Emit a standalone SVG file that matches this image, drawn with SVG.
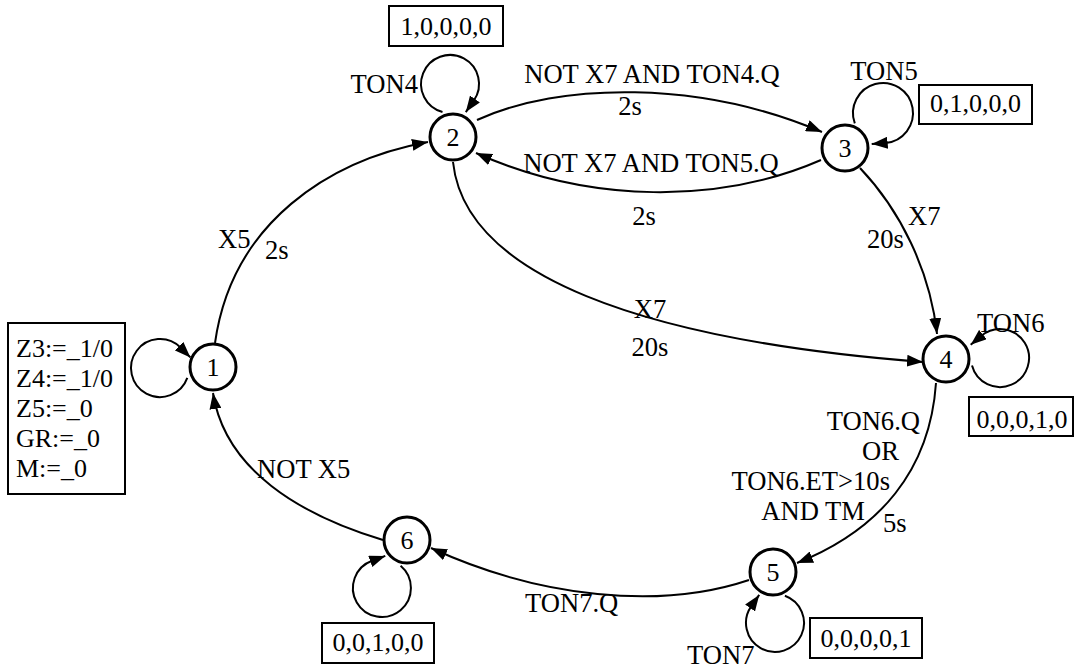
<svg xmlns="http://www.w3.org/2000/svg" width="1074" height="670" viewBox="0 0 1074 670" font-family="'Liberation Serif', 'DejaVu Serif', serif">
  <style>
    text { font-family: 'Liberation Serif', 'Times New Roman', Times, 'DejaVu Serif', serif; font-size: 26px; fill: #000; }
    .lbl { font-size: 26.6px; }
    .state { fill: #fff; stroke: #000; stroke-width: 3; }
    .num { text-anchor: middle; }
    .box { fill: #fff; stroke: #000; stroke-width: 2; }
    .edge { fill: none; stroke: #000; stroke-width: 2; marker-end: url(#arrow); }
    .mid { text-anchor: middle; }
    .end { text-anchor: end; }
  </style>
  <defs>
    <marker id="arrow" markerUnits="userSpaceOnUse" markerWidth="16" markerHeight="12" refX="16" refY="6" orient="auto">
      <path d="M0,0 L16,6 L0,12 z" fill="#000"/>
    </marker>
  </defs>
  <rect width="1074" height="670" fill="#fff"/>

  <!-- transitions and self-loops -->
  <g id="connectors">
    <path class="edge" d="M215,343 C232,222 330,160 428,142"/>
    <path class="edge" d="M477,120 C560,82 700,80 822,132"/>
    <path class="edge" d="M821,160 C720,204 590,204 476,153"/>
    <path class="edge" d="M860,168 C900,210 930,270 937,334"/>
    <path class="edge" d="M453,162 C465,275 640,340 923,362"/>
    <path class="edge" d="M936,383 C930,470 880,530 797,563"/>
    <path class="edge" d="M749,580 C660,610 540,598 431,548"/>
    <path class="edge" d="M383,540 C300,515 225,470 213,393"/>

    <path class="edge" d="M187.3,377.9 A29,29 0 1 1 180.5,347.5 L190.4,357.4"/>
    <path class="edge" d="M442.5,112 A29,29 0 1 1 473.8,100.6 L465.8,112.1"/>
    <path class="edge" d="M854.8,123.3 A30,30 0 1 1 885.6,142.9 L871.7,144.1"/>
    <path class="edge" d="M972,365.5 A29,29 0 1 0 981.4,335.8 L970.7,344.8"/>
    <path class="edge" d="M784.9,595.7 A29,29 0 1 1 751.2,606.4 L759.2,594.9"/>
    <path class="edge" d="M400.6,565.8 A29,29 0 1 1 372.1,560.7 L385.3,555.9"/>
  </g>

  <!-- transition labels -->
  <g id="labels" class="lbl">
    <text class="lbl" x="218" y="248">X5</text>
    <text class="lbl" x="265" y="259">2s</text>
    <text class="lbl mid" x="652" y="83">NOT X7 AND TON4.Q</text>
    <text class="lbl mid" x="630" y="115">2s</text>
    <text class="lbl mid" x="651" y="172">NOT X7 AND TON5.Q</text>
    <text class="lbl mid" x="644" y="225">2s</text>
    <text class="lbl" x="908" y="225">X7</text>
    <text class="lbl" x="867" y="248">20s</text>
    <text class="lbl mid" x="650" y="318">X7</text>
    <text class="lbl mid" x="650" y="356">20s</text>
    <text class="lbl end" x="920" y="430">TON6.Q</text>
    <text class="lbl" x="862" y="460">OR</text>
    <text class="lbl end" x="890" y="490">TON6.ET&gt;10s</text>
    <text class="lbl end" x="865" y="520">AND TM</text>
    <text class="lbl" x="883" y="532">5s</text>
    <text class="lbl" x="525" y="612">TON7.Q</text>
    <text class="lbl" x="257" y="478">NOT X5</text>
    <text class="lbl end" x="418" y="93">TON4</text>
    <text class="lbl mid" x="884" y="80">TON5</text>
    <text class="lbl" x="977" y="332">TON6</text>
    <text class="lbl" x="687" y="664">TON7</text>
  </g>

  <g id="init-actions">
    <rect class="box" x="8" y="323" width="117" height="171"/>
    <text x="16" y="357">Z3:=_1/0</text>
    <text x="16" y="387">Z4:=_1/0</text>
    <text x="16" y="417">Z5:=_0</text>
    <text x="16" y="447">GR:=_0</text>
    <text x="16" y="477">M:=_0</text>
  </g>
  <g id="out2">
    <rect class="box" x="389" y="6" width="114" height="40"/>
    <text class="mid" x="446" y="35">1,0,0,0,0</text>
  </g>
  <g id="out3">
    <rect class="box" x="919" y="85" width="113" height="39"/>
    <text class="mid" x="975.5" y="112">0,1,0,0,0</text>
  </g>
  <g id="out4">
    <rect class="box" x="969" y="397" width="104" height="39"/>
    <text class="mid" x="1022" y="428">0,0,0,1,0</text>
  </g>
  <g id="out5">
    <rect class="box" x="810" y="618" width="112" height="40"/>
    <text class="mid" x="866" y="647">0,0,0,0,1</text>
  </g>
  <g id="out6">
    <rect class="box" x="322" y="623" width="112" height="40"/>
    <text class="mid" x="378" y="651">0,0,1,0,0</text>
  </g>

  <g id="s1"><circle class="state" cx="213" cy="367" r="23"/><text class="num" x="213" y="376">1</text></g>
  <g id="s2"><circle class="state" cx="453" cy="137" r="23"/><text class="num" x="453" y="146">2</text></g>
  <g id="s3"><circle class="state" cx="845" cy="148" r="23"/><text class="num" x="845" y="157">3</text></g>
  <g id="s4"><circle class="state" cx="946" cy="359" r="23"/><text class="num" x="946" y="368">4</text></g>
  <g id="s5"><circle class="state" cx="773" cy="572" r="23"/><text class="num" x="773" y="581">5</text></g>
  <g id="s6"><circle class="state" cx="407" cy="540" r="23"/><text class="num" x="407" y="549">6</text></g>
</svg>
